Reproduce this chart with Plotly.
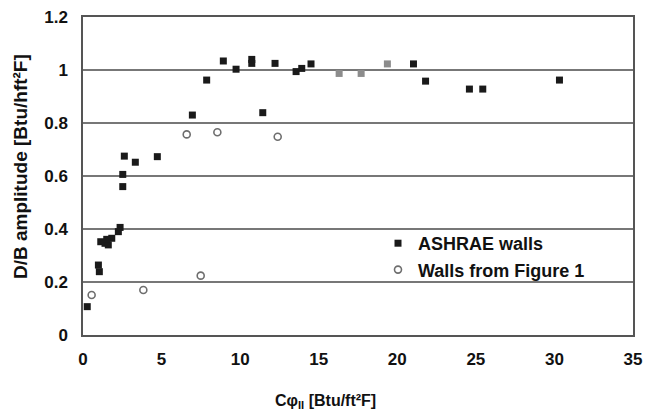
import plotly.graph_objects as go

# ASHRAE walls (dark squares)
ashrae_x = [8.93, 9.74, 10.74, 10.74, 12.22, 13.56, 13.92, 14.51, 21.03, 7.87, 11.44, 6.96,
            21.8, 24.59, 25.44, 30.32, 2.63, 3.33, 4.73, 2.53, 2.53, 2.36, 2.25,
            1.13, 1.40, 1.61, 1.83, 1.51, 0.98, 1.04, 0.27]
ashrae_y = [1.034, 1.003, 1.040, 1.025, 1.025, 0.994, 1.006, 1.023, 1.023, 0.962, 0.839, 0.830,
            0.958, 0.928, 0.928, 0.962, 0.675, 0.652, 0.673, 0.606, 0.560, 0.406, 0.390,
            0.352, 0.346, 0.340, 0.365, 0.361, 0.264, 0.239, 0.107]
# ASHRAE walls printed faded in the original
faded_x = [16.3, 17.7, 19.37]
faded_y = [0.987, 0.987, 1.023]
# Walls from Figure 1 (open circles)
fig1_x = [6.6, 8.55, 12.39, 7.49, 3.84, 0.55]
fig1_y = [0.757, 0.765, 0.748, 0.224, 0.170, 0.151]

x_ticks = [0, 5, 10, 15, 20, 25, 30, 35]
x_tick_text = ["0", "5", "10", "15", "20", "25", "30", "35"]
y_ticks = [0, 0.2, 0.4, 0.6, 0.8, 1.0, 1.2]
y_tick_text = ["0", "0.2", "0.4", "0.6", "0.8", "1", "1.2"]

FONT = "Liberation Sans, Arial, sans-serif"
OFF = 8  # page body margin
W, H = 654 - OFF, 416 - OFF
X0, X1, Y0, Y1 = 83, 633, 17, 335  # plot area in window pixels
L, R, T, B = X0 - OFF, 654 - X1, Y0 - OFF, 416 - Y1
PW, PH = X1 - X0, Y1 - Y0


def px(x):
    return (x - X0) / PW


def py(y):
    return (Y1 - y) / PH


fig = go.Figure()
fig.add_trace(go.Scatter(x=ashrae_x, y=ashrae_y, mode="markers", name="<b>ASHRAE walls</b>",
                         marker=dict(symbol="square", size=7, color="#1a1a1a")))
fig.add_trace(go.Scatter(x=faded_x, y=faded_y, mode="markers", showlegend=False,
                         marker=dict(symbol="square", size=7, color="#8c8c8c")))
fig.add_trace(go.Scatter(x=fig1_x, y=fig1_y, mode="markers", name="<b>Walls from Figure 1</b>",
                         marker=dict(symbol="circle-open", size=7, color="#6e6e6e",
                                     line=dict(width=1.6))))

fig.update_layout(
    width=W, height=H,
    margin=dict(l=L, r=R, t=T, b=B),
    paper_bgcolor="white", plot_bgcolor="white",
    font=dict(family=FONT, size=14, color="#111"),
    legend=dict(x=px(378), y=py(225), xanchor="left", yanchor="top",
                bgcolor="rgba(0,0,0,0)", font=dict(size=18, family=FONT, color="#111")),
    xaxis=dict(range=[0, 35], tickvals=x_ticks, ticktext=["<b>%s</b>" % t for t in x_tick_text],
               showgrid=False, zeroline=False, automargin=False, ticklabeloverflow="allow",
               showline=True, linecolor="#555", linewidth=1.5, mirror=True,
               ticks="", tickfont=dict(size=17, family=FONT), ticklabelstandoff=8),
    yaxis=dict(range=[0, 1.2], tickvals=y_ticks, ticktext=["<b>%s</b>" % t for t in y_tick_text],
               showgrid=True, gridcolor="#777", gridwidth=1.5, zeroline=False, automargin=False,
               ticklabeloverflow="allow",
               showline=True, linecolor="#555", linewidth=1.5, mirror=True,
               ticks="", tickfont=dict(size=17, family=FONT), ticklabelstandoff=10),
)
fig.add_annotation(text="<b>D/B amplitude [Btu/hft²F]</b>", xref="paper", yref="paper",
                   x=px(20), y=py(167), xanchor="center", yanchor="middle",
                   textangle=-90, showarrow=False, font=dict(size=19, family=FONT))
fig.add_annotation(text="<b>Cφ<sub>II</sub> [Btu/ft²F]</b>", xref="paper", yref="paper",
                   x=px(325), y=py(401), xanchor="center", yanchor="middle",
                   showarrow=False, font=dict(size=16, family=FONT))

fig.write_html("out.html")
